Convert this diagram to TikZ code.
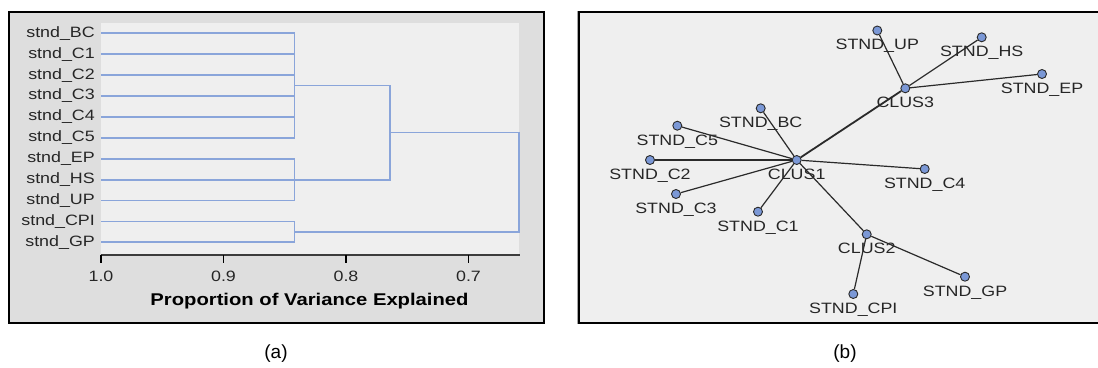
\documentclass[tikz,border=0pt]{standalone}
\usepackage{fontspec}
\setmainfont{Liberation Sans}
\newfontfamily\widesans[FakeStretch=1.19]{Liberation Sans}
\usetikzlibrary{calc}

\definecolor{panelgray}{HTML}{DEDEDE}
\definecolor{plotbg}{HTML}{EFEFEF}
\definecolor{dendro}{HTML}{8AA5DA}
\definecolor{dotfill}{HTML}{7B98D6}
\definecolor{edgecol}{HTML}{2A2A2A}
\definecolor{axiscol}{HTML}{3C3C3C}

\tikzset{
  frame/.style={draw=black, line width=2pt},
  frameshadow/.style={draw=black!35, line width=1pt},
  dend/.style={draw=dendro, line width=1.8pt},
  axisline/.style={draw=axiscol, line width=2pt},
  tickmark/.style={draw=black, line width=1.5pt},
  leaflbl/.style={inner sep=0pt, font=\widesans\fontsize{15}{15}\selectfont, text=black!85},
  ticklbl/.style={inner sep=0pt, font=\widesans\fontsize{15}{15}\selectfont, text=black!85},
  titlelbl/.style={inner sep=0pt, font=\widesans\bfseries\fontsize{17}{17}\selectfont},
  vnode/.style={circle, draw=edgecol, fill=dotfill, line width=0.9pt, minimum size=9pt, inner sep=0pt},
  vlbl/.style={inner sep=0pt, anchor=base, label distance=14.5pt, font=\widesans\fontsize{15}{15}\selectfont, text=black!85},
  link/.style={draw=edgecol, line width=1.2pt},
  trunk/.style={draw=edgecol, line width=1.8pt},
  caption/.style={inner sep=0pt, font=\fontsize{19}{19}\selectfont},
}

\begin{document}
\begin{tikzpicture}[x=1pt, y=-1pt]
\useasboundingbox (0,0) rectangle (1098,367);

% ---------- left panel: dendrogram ----------
\fill[panelgray] (9,12) rectangle (543.7,322.7);
\fill[plotbg] (100.7,22.7) rectangle (519.3,255);

\coordinate (xa) at (294.5,0);
\coordinate (xb) at (390,0);
\coordinate (xr) at (519,0);

\foreach \t [count=\i from 0] in {BC,C1,C2,C3,C4,C5,EP,HS,UP,CPI,GP} {
  \pgfmathsetmacro\yy{33.3+20.9*\i}
  \node[leaflbl, anchor=east] (l\t) at (95,\yy) {stnd\_\t};
  \coordinate (s\t) at (101,\yy);
  \draw[dend] (s\t) -- (s\t -| xa);
}

% first-level merges
\draw[dend] (sBC -| xa) -- (sC5 -| xa);
\draw[dend] (sEP -| xa) -- (sUP -| xa);
\draw[dend] (sCPI -| xa) -- (sGP -| xa);
\coordinate (jA) at ($(sBC -| xa)!0.5!(sC5 -| xa)$);
\coordinate (jB) at (sHS -| xa);
\coordinate (jC) at ($(sCPI -| xa)!0.5!(sGP -| xa)$);

% second-level merge
\draw[dend] (jA) -- (jA -| xb) -- (jB -| xb) -- (jB);
\coordinate (jAB) at ($(jA -| xb)!0.5!(jB -| xb)$);

% root
\draw[dend] (jAB) -- (jAB -| xr) -- (jC -| xr) -- (jC);

% axis
\draw[axisline] (100.7,255) -- (520.3,255);
\foreach \v/\lab in {1/1.0, 0.9/0.9, 0.8/0.8, 0.7/0.7} {
  \pgfmathsetmacro\xx{101+(1-\v)*1225}
  \draw[tickmark] (\xx,255) -- (\xx,263);
  \node[ticklbl] at (\xx,276.7) {\lab};
}
\node[titlelbl] (title) at (309.5,301) {Proportion of Variance Explained};

\draw[frameshadow] (8,11) rectangle (544.7,323.7);
\draw[frame] (9,12) rectangle (543.7,322.7);

% ---------- right panel: cluster tree ----------
\fill[plotbg] (578.7,12.3) rectangle (1106,322.7);
\draw[frameshadow] (577.7,11.3) rectangle (1107,323.7);
\draw[frame] (578.7,12.3) rectangle (1106,322.7);

\node[vnode, label={[vlbl]below:CLUS1}] (clus1) at (796.7,160) {};
\node[vnode, label={[vlbl]below:CLUS2}] (clus2) at (866.7,234.3) {};
\node[vnode, label={[vlbl]below:CLUS3}] (clus3) at (905.3,88.3) {};
\node[vnode, label={[vlbl]below:STND\_BC}] (bc) at (760.7,108.3) {};
\node[vnode, label={[vlbl]below:STND\_C5}] (c5) at (677.3,125.7) {};
\node[vnode, label={[vlbl]below:STND\_C2}] (c2) at (650,160) {};
\node[vnode, label={[vlbl]below:STND\_C3}] (c3) at (676,194) {};
\node[vnode, label={[vlbl]below:STND\_C1}] (c1) at (758,211.7) {};
\node[vnode, label={[vlbl]below:STND\_C4}] (c4) at (924.7,169) {};
\node[vnode, label={[vlbl]below:STND\_UP}] (up) at (877.3,30.5) {};
\node[vnode, label={[vlbl]below:STND\_HS}] (hs) at (981.7,37.3) {};
\node[vnode, label={[vlbl]below:STND\_EP}] (ep) at (1042,74) {};
\node[vnode, label={[vlbl]below:STND\_GP}] (gp) at (965,276.7) {};
\node[vnode, label={[vlbl]below:STND\_CPI}] (cpi) at (853.3,294) {};

\draw[trunk] (clus1) -- (clus3);
\foreach \n in {bc,c5,c2,c3,c1,c4,clus2} \draw[link] (clus1) -- (\n);
\foreach \n in {up,hs,ep} \draw[link] (clus3) -- (\n);
\foreach \n in {gp,cpi} \draw[link] (clus2) -- (\n);

% ---------- captions ----------
\node[caption] (capa) at (276,354) {(a)};
\node[caption] (capb) at (845,354) {(b)};
\end{tikzpicture}
\end{document}
